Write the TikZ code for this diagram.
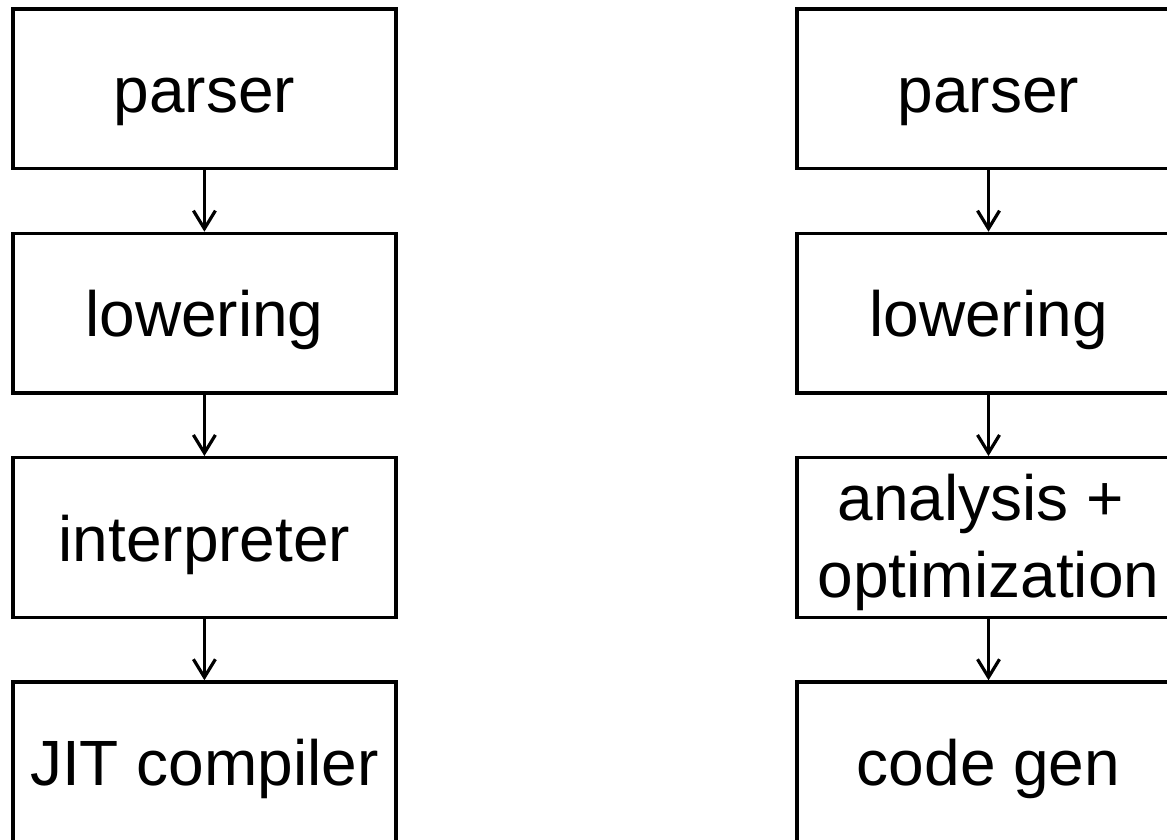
\documentclass[tikz,border=0pt]{standalone}
\usepackage{fontspec}
\setmainfont{Liberation Sans}
\usetikzlibrary{arrows.meta}
\begin{document}
\begin{tikzpicture}[x=1pt,y=1pt,
  stage/.style={draw=black, line width=3.2pt, minimum width=383pt,
    minimum height=159.6pt, inner sep=0pt},
  lbl/.style={anchor=base, inner sep=0pt, font=\fontsize{64}{77}\selectfont},
  flow/.style={draw=black, line width=3.2pt,
    -{Straight Barb[length=18pt,width=22pt]}}]
\clip (0,0) rectangle (1167,-839);
\fill[white] (0,0) rectangle (1167,-839);

% left pipeline: interpreter with JIT
\node[stage] (lp) at (204.4,-88.8) {};
\node[stage] (ll) at (204.4,-313.1) {};
\node[stage] (li) at (204.4,-537.4) {};
\node[stage] (lj) at (204.4,-761.7) {};
\node[lbl] (lpt) at ([yshift=-23.7pt]lp.center) {parser};
\node[lbl] (llt) at ([yshift=-23.7pt]ll.center) {lowering};
\node[lbl] (lit) at ([yshift=-23.7pt]li.center) {interpreter};
\node[lbl] (ljt) at ([yshift=-23.7pt]lj.center) {JIT compiler};
\draw[flow] (lp) -- (ll);
\draw[flow] (ll) -- (li);
\draw[flow] (li) -- (lj);

% right pipeline: ahead-of-time compiler
\node[stage] (rp) at (988.5,-88.8) {};
\node[stage] (rl) at (988.5,-313.1) {};
\node[stage] (ra) at (988.5,-537.4) {};
\node[stage] (rc) at (988.5,-761.7) {};
\node[lbl] (rpt) at ([yshift=-23.7pt]rp.center) {parser};
\node[lbl] (rlt) at ([yshift=-23.7pt]rl.center) {lowering};
\node[lbl] (rat) at ([xshift=-7.5pt,yshift=17.4pt]ra.center) {analysis +};
\node[lbl] (rot) at ([yshift=-59.6pt]ra.center) {optimization};
\node[lbl] (rct) at ([yshift=-23.7pt]rc.center) {code gen};
\draw[flow] (rp) -- (rl);
\draw[flow] (rl) -- (ra);
\draw[flow] (ra) -- (rc);
\end{tikzpicture}
\end{document}
